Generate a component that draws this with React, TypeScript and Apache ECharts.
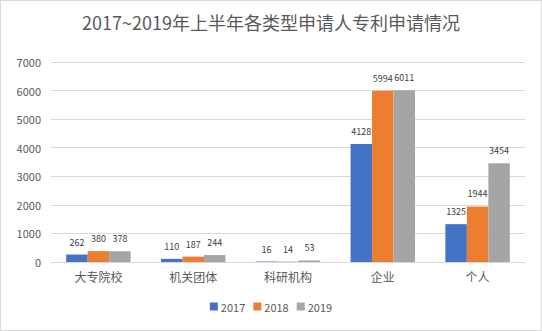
import React, { useEffect, useRef } from "react";
import * as echarts from "echarts";

const categories = ["大专院校", "机关团体", "科研机构", "企业", "个人"];
const s2017 = [262, 110, 16, 4128, 1325];
const s2018 = [380, 187, 14, 5994, 1944];
const s2019 = [378, 244, 53, 6011, 3454];
const seriesNames = ["2017", "2018", "2019"];
const colors = ["#4472C4", "#ED7D31", "#A5A5A5"];

export default function App() {
  const ref = useRef<HTMLDivElement>(null);
  useEffect(() => {
    const chart = echarts.init(ref.current!, undefined, { renderer: "svg" });
    const font = "'Noto Sans CJK SC', 'Noto Sans', sans-serif";
    const data = [s2017, s2018, s2019];
    chart.setOption({
      animation: false,
      textStyle: { fontFamily: font },
      title: {
        text: "2017~2019年上半年各类型申请人专利申请情况",
        left: "center",
        top: 7,
        textStyle: { fontSize: 18, fontWeight: "normal", color: "#595959", fontFamily: font },
      },
      legend: {
        bottom: 13,
        left: "center",
        itemWidth: 8,
        itemHeight: 8,
        itemGap: 8,
        icon: "rect",
        textStyle: { fontSize: 11, color: "#595959", padding: [0, 0, 0, -2] },
        data: seriesNames,
      },
      grid: { left: 50, right: 16, top: 61, bottom: 68, containLabel: false },
      xAxis: {
        type: "category",
        data: categories,
        axisLine: { lineStyle: { color: "#d9d9d9" } },
        axisTick: { show: false },
        axisLabel: { fontSize: 12, color: "#595959", margin: 8 },
      },
      yAxis: {
        type: "value",
        min: 0,
        max: 7000,
        interval: 1000,
        axisLine: { show: false },
        axisTick: { show: false },
        axisLabel: { fontSize: 11, color: "#595959", margin: 10, formatter: (v: number) => String(v) },
        splitLine: { lineStyle: { color: "#d9d9d9" } },
      },
      series: seriesNames.map((n, i) => ({
        name: n,
        type: "bar",
        data: data[i],
        barGap: "0%",
        barCategoryGap: "32%",
        itemStyle: { color: colors[i] },
        label: {
          show: true,
          position: "top",
          distance: 8,
          fontSize: 9,
          color: "#404040",
        },
      })),
    });
    return () => chart.dispose();
  }, []);
  return (
    <div
      style={{
        position: "fixed",
        left: 0,
        top: 0,
        width: 542,
        height: 331,
        boxSizing: "border-box",
        border: "1px solid #d9d9d9",
        background: "#fff",
      }}
    >
      <div ref={ref} style={{ width: 540, height: 329 }} />
    </div>
  );
}
